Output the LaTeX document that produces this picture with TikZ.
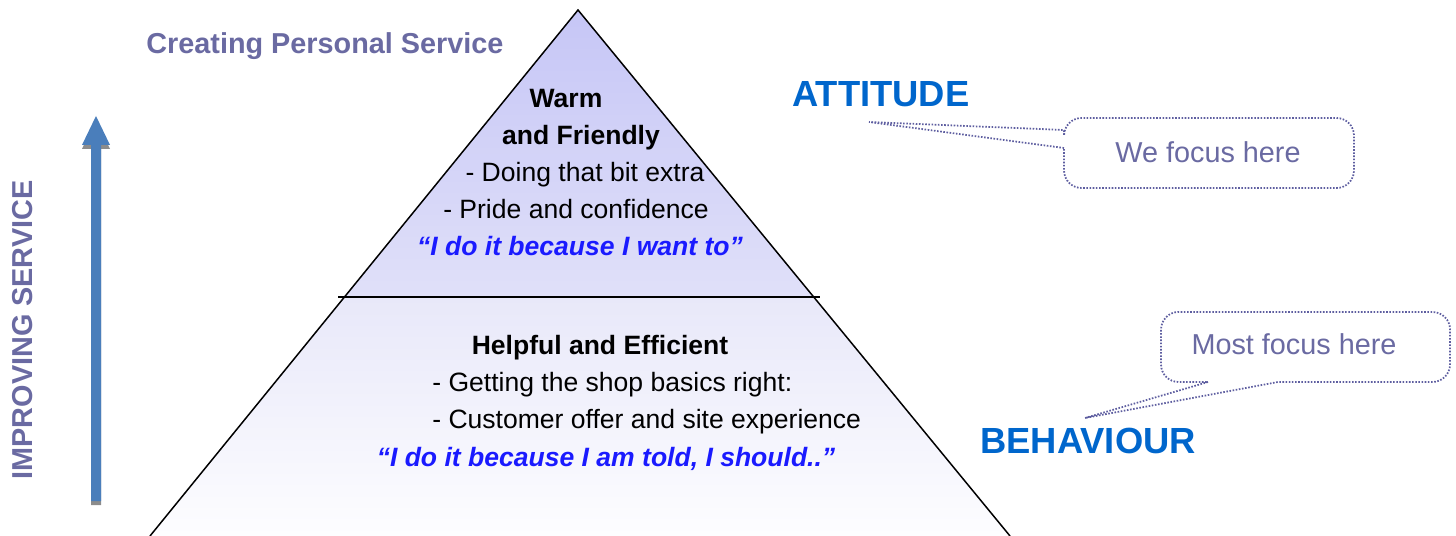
\documentclass[tikz,border=0pt]{standalone}
\usepackage{fontspec}
\setmainfont{Liberation Sans}
\usetikzlibrary{calc}

\definecolor{servpurple}{HTML}{6A6AA2}
\definecolor{headblue}{HTML}{0066CC}
\definecolor{quoteblue}{HTML}{1A1AFF}
\definecolor{arrowblue}{HTML}{4A7EBB}
\definecolor{pyrtop}{HTML}{C6C6F6}
\definecolor{pyrmid}{HTML}{E0E0F9}
\definecolor{pyrlow}{HTML}{E8E8F9}
\definecolor{pyrbase}{HTML}{FDFDFF}
\definecolor{calloutline}{HTML}{5E5EA0}

\tikzset{
  pyrline/.style   ={line width=0.85pt},
  pyrtext/.style   ={font=\fontsize{15.1}{18}\selectfont, anchor=base, inner sep=0pt},
  pyrhead/.style   ={pyrtext, font=\fontsize{15.1}{18}\selectfont\bfseries},
  pyrquote/.style  ={pyrtext, font=\fontsize{15.1}{18}\selectfont\bfseries\itshape, text=quoteblue},
  levellabel/.style={font=\fontsize{20.7}{24}\selectfont\bfseries, text=headblue, anchor=base west, inner sep=0pt},
  callouttext/.style={font=\fontsize{16.4}{20}\selectfont, text=servpurple, inner sep=0pt},
  calloutbox/.style={draw=calloutline, line width=1pt, dash pattern=on 0.9pt off 0.9pt}
}

\begin{document}
\begin{tikzpicture}[x=0.02cm,y=-0.02cm]
   \useasboundingbox (0,0) rectangle (1456,536);
   \clip (0,0) rectangle (1456,536);

   % pyramid
   \coordinate (apex) at (578,10);
   \coordinate (botL) at (150,536);
   \coordinate (botR) at (1010,536);
   \coordinate (midL) at ($(apex)!0.5456!(botL)$);
   \coordinate (midR) at ($(apex)!0.5456!(botR)$);
   \coordinate (divL) at (338,297);
   \coordinate (divR) at (820,297);
   \shade[top color=pyrtop, bottom color=pyrmid] (apex) -- (midR) -- (midL) -- cycle;
   \shade[top color=pyrlow, bottom color=pyrbase] (midL) -- (midR) -- (botR) -- (botL) -- cycle;
   \draw[pyrline] (botL) -- (apex) -- (botR);
   \draw[pyrline] (divL) -- (divR);

   % upper level
   \node[pyrhead]  (warm)    at (566,108) {Warm};
   \node[pyrhead]  (friendly) at (581,145) {and Friendly};
   \node[pyrtext]  (extra)   at (585,182) {- Doing that bit extra};
   \node[pyrtext]  (pride)   at (576,219) {- Pride and confidence};
   \node[pyrquote] (wantto)  at (580,256) {“I do it because I want to”};

   % lower level
   \node[pyrhead]  (helpful) at (600,355) {Helpful and Efficient};
   \node[pyrtext, anchor=base west] (basics)   at (432,392) {- Getting the shop basics right:};
   \node[pyrtext, anchor=base west] (customer) at (432,429) {- Customer offer and site experience};
   \node[pyrquote] (told)    at (606,466) {“I do it because I am told, I should..”};

   % title
   \node[font=\fontsize{16.4}{20}\selectfont\bfseries, text=servpurple, anchor=base west, inner sep=0pt]
      (title) at (146,54) {Creating Personal Service};

   % improving arrow
   \fill[gray!90] (91,505) -- (91,149) -- (82,149) -- (96,119) -- (110,149) -- (101,149) -- (101,505) -- cycle;
   \fill[arrowblue] (91,501) -- (91,145) -- (82,145) -- (96,116) -- (110,145) -- (101,145) -- (101,501) -- cycle;
   \node[font=\fontsize{16.4}{20}\selectfont\bfseries, text=servpurple, rotate=90, inner sep=0pt]
      (improving) at (23,330) {IMPROVING SERVICE};

   % level labels
   \node[levellabel] (attitude)  at (792,107) {ATTITUDE};
   \node[levellabel] (behaviour) at (980,454) {BEHAVIOUR};

   % callouts
   \coordinate (atip) at (869,122);
   \draw[calloutbox] (1064,148) -- (atip) -- (1064,130)
      {[rounded corners=10] -- (1064,118) -- (1354,118) -- (1354,188) -- (1064,188)} -- cycle;
   \node[callouttext] (wefocus) at (1208,152) {We focus here};

   \coordinate (btip) at (1085,418);
   \draw[calloutbox] (1208,382) -- (btip) -- (1278,382)
      {[rounded corners=10] -- (1450,382) -- (1450,312) -- (1161,312) -- (1161,382)} -- cycle;
   \node[callouttext] (mostfocus) at (1294,344) {Most focus here};
\end{tikzpicture}
\end{document}
